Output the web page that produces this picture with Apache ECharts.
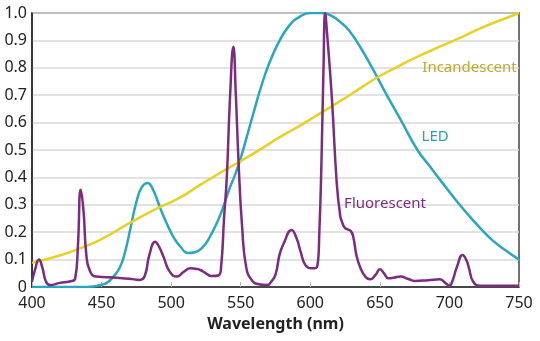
<!DOCTYPE html>
<html>
<head>
<meta charset="utf-8">
<script src="https://cdn.jsdelivr.net/npm/echarts@6/dist/echarts.min.js"></script>
<style>
html,body{margin:0;padding:0;background:#fff;}
#chart{width:540px;height:341px;}
</style>
</head>
<body>
<div id="chart"></div>
<script>
// Wavelength (nm) / relative intensity
var incX = [400,420,435,450,470,490,506,520,535,550,565,578,593,609,622,636,650,665,679,693,710,725,740,750];
var incY = [0.088,0.115,0.142,0.175,0.233,0.287,0.325,0.37,0.416,0.46,0.505,0.547,0.59,0.64,0.68,0.726,0.77,0.81,0.845,0.877,0.915,0.95,0.98,1.0];

var ledX = [400,440,445,450,454,458,463,467,471,475,479,483,487,492,497,501.5,507,512,517,523,528,533,538,542,546,550,555,560,564,570,578,585,592,600,608,615,622,628,636,645,655,665,677,686,695,705,715,723,731,740,750];
var ledY = [0,0,0.003,0.008,0.016,0.035,0.07,0.13,0.22,0.31,0.365,0.38,0.355,0.29,0.23,0.184,0.145,0.124,0.127,0.147,0.185,0.235,0.3,0.36,0.41,0.47,0.56,0.65,0.72,0.81,0.9,0.955,0.985,1.0,1.0,0.99,0.965,0.935,0.875,0.795,0.70,0.61,0.50,0.44,0.38,0.315,0.255,0.21,0.17,0.135,0.1];

var fluX = [400,402,405,407.5,410,413,420,427,431,433,435,437,439,441.5,446,454,463,470,477.5,481,484.5,488.5,491,494.5,499,504,509,514,518,521,525,529,534,536,538,540,542.3,544.7,546.5,548.5,551,554,558,563,569,572,575,578,581,586.5,590,593,596.5,601,605,606.5,608,609.5,610.7,612,615.5,619,621.5,623,625,629,631,633,636,640,643,647,650,653,656,660,665,670,675,685,693,697,700,702,705.5,709.5,712,714,717,722,735,750];
var fluY = [0.02,0.06,0.10,0.07,0.02,0.007,0.015,0.02,0.03,0.15,0.355,0.28,0.12,0.06,0.038,0.036,0.033,0.03,0.026,0.04,0.12,0.165,0.15,0.11,0.056,0.038,0.055,0.068,0.066,0.062,0.05,0.04,0.042,0.08,0.25,0.40,0.69,0.877,0.7,0.45,0.22,0.07,0.025,0.01,0.007,0.02,0.045,0.12,0.16,0.208,0.18,0.13,0.08,0.068,0.075,0.2,0.45,0.8,1.0,0.93,0.69,0.38,0.26,0.235,0.215,0.205,0.18,0.12,0.07,0.035,0.028,0.045,0.065,0.05,0.032,0.034,0.038,0.03,0.022,0.025,0.028,0.015,0.005,0.02,0.075,0.117,0.1,0.07,0.02,0.005,0.005,0.005];

var xTicks = [400,450,500,550,600,650,700,750];
var yTicks = [0,0.1,0.2,0.3,0.4,0.5,0.6,0.7,0.8,0.9,1.0];

var labels = [
  {name:'Incandescent', x:680.5, y:0.80, color:'#c2a92b'},
  {name:'LED', x:680, y:0.547, color:'#2a9fb8'},
  {name:'Fluorescent', x:624.3, y:0.303, color:'#7a2d7e'}
];

function pairs(xs, ys){ return xs.map(function(x,i){ return [x, ys[i]]; }); }

var FONT = 'Noto Sans';
var chart = echarts.init(document.getElementById('chart'), null, {renderer:'canvas'});

function mp(l){
  return {
    symbol:'circle', symbolSize:0,
    data:[{coord:[l.x,l.y], value:l.name}],
    label:{show:true, position:'right', distance:0, formatter:l.name, color:l.color, fontFamily:FONT, fontSize:15},
    silent:true
  };
}

chart.setOption({
  animation:false,
  backgroundColor:'#fff',
  grid:{left:32, right:21, top:13, bottom:54, show:true, borderColor:'#444', borderWidth:1.5, backgroundColor:'transparent'},
  xAxis:{
    type:'value', min:400, max:750, interval:50,
    axisLine:{show:true, onZero:false, lineStyle:{color:'#222', width:1.5}},
    axisTick:{show:true, inside:true, length:5, lineStyle:{color:'#bbb'}},
    splitLine:{show:false},
    axisLabel:{color:'#222', fontFamily:FONT, fontSize:16, margin:8,
      formatter:function(v){ return xTicks.indexOf(v)>=0 ? String(v) : ''; }},
    name:'Wavelength (nm)', nameLocation:'middle', nameGap:29,
    nameTextStyle:{color:'#222', fontFamily:FONT, fontSize:16, fontWeight:'bold'}
  },
  yAxis:{
    type:'value', min:0, max:1, interval:0.1,
    axisLine:{show:true, lineStyle:{color:'#222', width:1.5}},
    axisTick:{show:false},
    splitLine:{show:true, lineStyle:{color:'#d9d9d9', width:1.5}},
    axisLabel:{color:'#222', fontFamily:FONT, fontSize:16, margin:5,
      formatter:function(v){
        var t = yTicks.reduce(function(a,b){ return Math.abs(b-v)<Math.abs(a-v)?b:a; });
        return t===0 ? '0' : t.toFixed(1);
      }}
  },
  series:[
    {type:'line', name:'Incandescent', data:pairs(incX,incY), showSymbol:false, smooth:0.5,
      lineStyle:{color:'#e8d124', width:2.5}, markPoint:mp(labels[0]), z:3},
    {type:'line', name:'LED', data:pairs(ledX,ledY), showSymbol:false, smooth:0.5,
      lineStyle:{color:'#2aa7c0', width:2.5}, markPoint:mp(labels[1]), z:2},
    {type:'line', name:'Fluorescent', data:pairs(fluX,fluY), showSymbol:false, smooth:0.5,
      lineStyle:{color:'#7b2b80', width:2.5}, markPoint:mp(labels[2]), z:4}
  ]
});
</script>
</body>
</html>
